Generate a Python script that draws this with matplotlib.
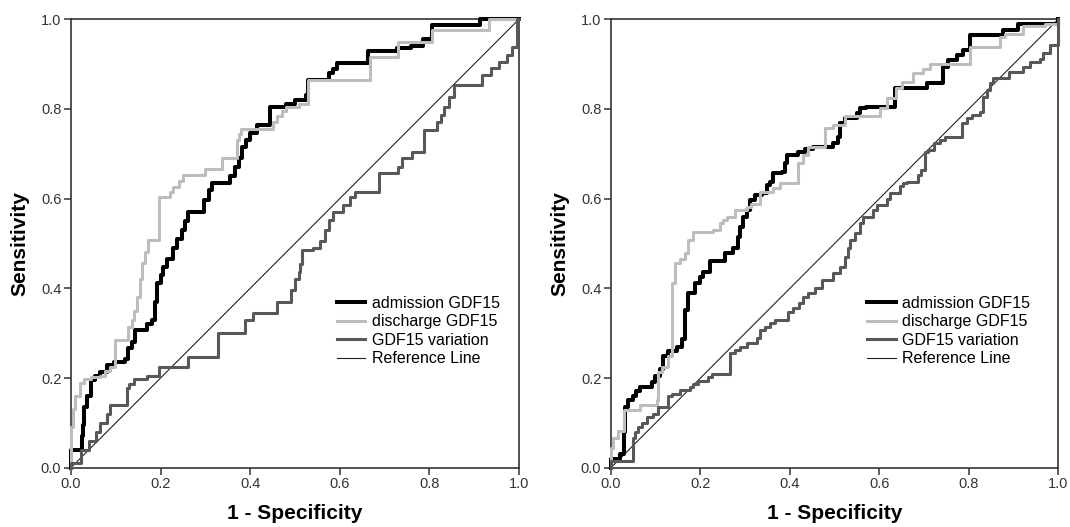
import matplotlib
matplotlib.use('Agg')
import matplotlib.pyplot as plt
import numpy as np

# ---- left panel ----
# step points: (1 - specificity, sensitivity) where each horizontal run starts
adm1_x=[0,0,0.024,0.026,0.03,0.036,0.044,0.054,0.065,0.08,0.095,0.12,0.128,0.136,0.143,0.169,0.18,0.188,0.192,0.2,0.206,0.215,0.228,0.237,0.247,0.255,0.262,0.296,0.307,0.315,0.355,0.366,0.374,0.381,0.39,0.40,0.415,0.445,0.48,0.50,0.525,0.53,0.575,0.585,0.594,0.664,0.728,0.76,0.786,0.806,0.914,1.0]
adm1_y=[0,0.039,0.07,0.095,0.136,0.16,0.196,0.205,0.213,0.228,0.235,0.243,0.266,0.28,0.307,0.32,0.33,0.37,0.411,0.43,0.448,0.465,0.49,0.51,0.53,0.55,0.571,0.597,0.62,0.635,0.65,0.67,0.69,0.716,0.73,0.746,0.764,0.805,0.81,0.82,0.83,0.864,0.88,0.89,0.902,0.928,0.935,0.94,0.956,0.987,1.0,1.0]

dis1_x=[0,0,0.005,0.01,0.02,0.03,0.045,0.065,0.075,0.087,0.098,0.128,0.136,0.14,0.147,0.153,0.158,0.165,0.172,0.196,0.221,0.228,0.24,0.25,0.30,0.337,0.37,0.375,0.38,0.452,0.46,0.47,0.48,0.51,0.53,0.668,0.731,0.806,0.933,1.0]
dis1_y=[0,0.09,0.13,0.16,0.188,0.198,0.202,0.205,0.215,0.225,0.285,0.314,0.33,0.35,0.381,0.42,0.456,0.48,0.508,0.604,0.615,0.625,0.64,0.652,0.665,0.69,0.73,0.745,0.755,0.77,0.785,0.795,0.805,0.81,0.864,0.916,0.95,0.976,1.0,1.0]

var1_x=[0,0,0.022,0.04,0.055,0.065,0.08,0.087,0.124,0.13,0.14,0.169,0.196,0.262,0.329,0.389,0.407,0.46,0.49,0.50,0.508,0.512,0.516,0.541,0.556,0.567,0.575,0.585,0.608,0.623,0.635,0.687,0.73,0.739,0.761,0.787,0.817,0.825,0.832,0.843,0.855,0.918,0.937,0.955,0.974,0.985,0.996,1.0]
var1_y=[0,0.01,0.04,0.06,0.08,0.10,0.12,0.14,0.177,0.186,0.198,0.205,0.225,0.2475,0.30,0.329,0.344,0.37,0.396,0.42,0.437,0.455,0.485,0.49,0.506,0.53,0.552,0.571,0.586,0.604,0.615,0.656,0.671,0.69,0.705,0.753,0.77,0.786,0.805,0.826,0.853,0.876,0.891,0.905,0.92,0.939,1.0,1.0]

# ---- right panel ----
adm2_x=[0,0,0.02,0.029,0.031,0.037,0.05,0.057,0.065,0.091,0.098,0.11,0.117,0.128,0.147,0.158,0.165,0.172,0.188,0.199,0.206,0.221,0.255,0.273,0.284,0.288,0.296,0.303,0.311,0.322,0.337,0.348,0.355,0.363,0.382,0.389,0.393,0.419,0.434,0.452,0.497,0.508,0.512,0.523,0.549,0.557,0.571,0.635,0.706,0.743,0.754,0.773,0.788,0.803,0.877,0.91,1.0]
adm2_y=[0,0.02,0.03,0.08,0.136,0.15,0.16,0.17,0.18,0.19,0.205,0.22,0.25,0.26,0.27,0.286,0.352,0.389,0.411,0.426,0.437,0.46,0.478,0.489,0.515,0.537,0.56,0.575,0.597,0.608,0.612,0.63,0.638,0.656,0.66,0.679,0.697,0.704,0.71,0.716,0.723,0.738,0.768,0.779,0.79,0.801,0.805,0.846,0.857,0.894,0.909,0.92,0.931,0.965,0.976,0.99,1.0]

dis2_x=[0,0,0.005,0.016,0.028,0.065,0.102,0.106,0.113,0.128,0.136,0.143,0.155,0.165,0.173,0.184,0.229,0.244,0.251,0.259,0.277,0.303,0.314,0.333,0.363,0.378,0.419,0.43,0.44,0.478,0.497,0.523,0.601,0.616,0.638,0.65,0.676,0.698,0.713,0.803,0.87,0.881,0.92,0.97,1.0]
dis2_y=[0,0.045,0.067,0.082,0.129,0.14,0.151,0.214,0.225,0.25,0.411,0.456,0.465,0.478,0.508,0.526,0.53,0.545,0.552,0.56,0.575,0.582,0.589,0.615,0.623,0.634,0.679,0.697,0.716,0.757,0.764,0.785,0.801,0.824,0.846,0.86,0.879,0.89,0.9,0.939,0.961,0.968,0.985,0.99,1.0]

var2_x=[0,0,0.05,0.054,0.061,0.069,0.08,0.095,0.106,0.128,0.136,0.154,0.177,0.184,0.195,0.217,0.225,0.266,0.277,0.288,0.303,0.326,0.333,0.344,0.355,0.366,0.396,0.408,0.42,0.43,0.441,0.456,0.471,0.497,0.512,0.523,0.53,0.534,0.545,0.557,0.564,0.586,0.594,0.616,0.624,0.646,0.653,0.661,0.687,0.694,0.702,0.709,0.721,0.735,0.747,0.784,0.795,0.806,0.825,0.832,0.84,0.847,0.855,0.89,0.922,0.937,0.959,0.966,0.981,1.0]
var2_y=[0,0.015,0.067,0.08,0.09,0.1,0.114,0.12,0.136,0.16,0.165,0.173,0.18,0.186,0.193,0.203,0.21,0.255,0.262,0.27,0.277,0.29,0.307,0.314,0.322,0.329,0.348,0.355,0.367,0.381,0.39,0.4,0.418,0.433,0.448,0.47,0.489,0.508,0.523,0.545,0.56,0.575,0.586,0.6,0.612,0.627,0.634,0.638,0.653,0.664,0.705,0.708,0.723,0.731,0.738,0.768,0.779,0.786,0.794,0.827,0.842,0.857,0.868,0.883,0.894,0.905,0.912,0.924,0.942,1.0]

labels=['admission GDF15','discharge GDF15','GDF15 variation','Reference Line']
ticks=[0.0,0.2,0.4,0.6,0.8,1.0]

font_size=10.5
plt.rcParams['font.family']=['Liberation Sans','DejaVu Sans']
plt.rcParams['font.size']=font_size
plt.rcParams['axes.linewidth']=1.2
plt.rcParams['axes.edgecolor']='#333333'

fig=plt.figure(figsize=(10.7,5.27),dpi=100)
ax1=fig.add_axes([71/1070,59.3/527,448/1070,448.5/527])
ax2=fig.add_axes([611/1070,59.3/527,447.3/1070,448.5/527])

panels=[(ax1,[(adm1_x,adm1_y),(dis1_x,dis1_y),(var1_x,var1_y)],0.593),
        (ax2,[(adm2_x,adm2_y),(dis2_x,dis2_y),(var2_x,var2_y)],0.572)]
colors=['#000000','#bdbdbd','#585858']
widths=[2.9,2.2,2.2]

for ax,curves,leg_x in panels:
    hh=[]
    for i in [2,1,0]:
        x,y=curves[i]
        h,=ax.plot(x,y,drawstyle='steps-post',color=colors[i],lw=widths[i],
                   clip_on=False,zorder=3+i,label=labels[i])
        hh.append(h)
    r,=ax.plot([0,1],[0,1],color='#222222',lw=0.8,zorder=2,label=labels[3])
    hh=hh[::-1]+[r]
    ax.set_xlim(0,1); ax.set_ylim(0,1)
    ax.set_xticks(ticks); ax.set_yticks(ticks)
    ax.set_xticklabels(['%.1f'%t for t in ticks])
    ax.set_yticklabels(['%.1f'%t for t in ticks])
    ax.tick_params(direction='out',length=5,width=1.1,color='#333333',labelcolor='#333333',labelsize=10.5,pad=2)
    ax.set_xlabel('1 - Specificity',fontsize=15,fontweight='bold',labelpad=9)
    ax.set_ylabel('Sensitivity',fontsize=15,fontweight='bold',labelpad=8)
    ax.legend(handles=hh,loc='upper left',bbox_to_anchor=(leg_x,0.383),frameon=False,
              borderpad=0,borderaxespad=0,handlelength=1.8,handletextpad=0.4,
              labelspacing=0.22,fontsize=11.5)

plt.savefig('out.png',dpi=100)
